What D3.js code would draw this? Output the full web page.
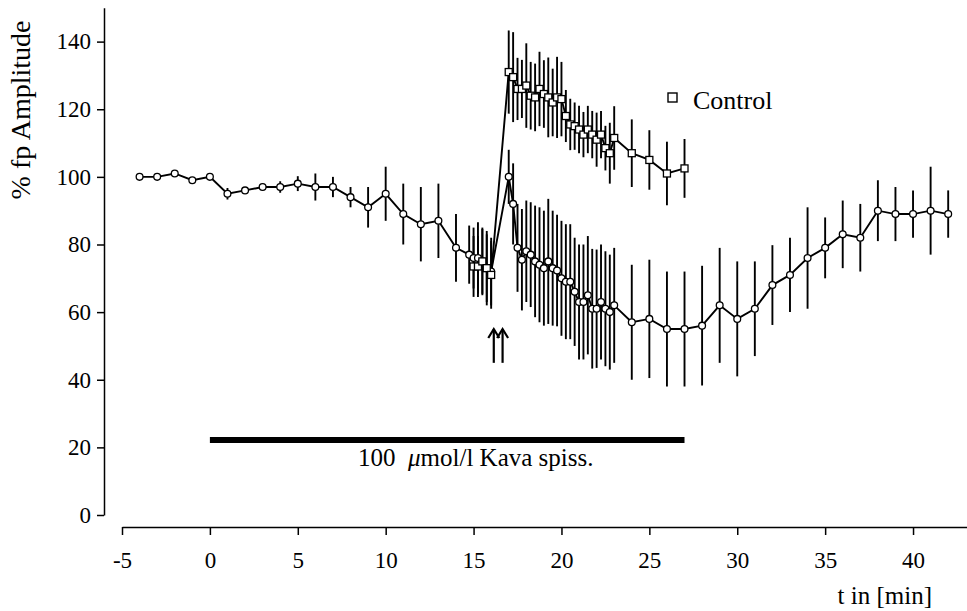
<!DOCTYPE html>
<html>
<head>
<meta charset="utf-8">
<script src="https://cdn.jsdelivr.net/npm/d3@7"></script>
<style>
body { margin: 0; background: #fff; }
</style>
</head>
<body>
<div id="chart"></div>
<script>
// Kava spiss. series (circles)
var kavaTime = [-4,-3,-2,-1,0,1,2,3,4,5,6,7,8,9,10,11,12,13,14,
  14.75,15,15.25,15.5,15.75,16,
  17,17.25,17.5,17.75,18,18.25,18.5,18.75,19,19.25,19.5,19.75,20,20.25,20.5,20.75,21,21.25,21.5,21.75,22,22.25,22.5,22.75,23,
  24,25,26,27,28,29,30,31,32,33,34,35,36,37,38,39,40,41,42];
var kavaMean = [100,100,101,99,100,95,96,97,97,98,97,97,94,91,95,89,86,87,79,
  77,76,76,75,73,72,
  100,92,79,75.5,78,77,75,74,73,75,73,72.3,70,69,69,66,63,63,65,61,61,63,61,60,62,
  57,58,55,55,56,62,58,61,68,71,76,79,83,82,90,89,89,90,89];
var kavaErr = [0,0,0,0,0,1.7,0.5,1,1.7,2.2,4,3,3,6,8,9,11,11,10,
  8.6,9,10.6,9.6,11,10,
  8,12,13,15,15,15.5,16.5,17,17,18.5,17,16.5,17,17,17,16,17,17,17.5,17.7,17.5,17,17,17,17,
  17,17.5,17,17,17.7,17,17,14,11.8,11,15,9,10,10,9,8,7,13,7];

// Control series (squares)
var ctrlTime = [15,15.25,15.5,15.75,16,
  17,17.25,17.5,17.75,18,18.25,18.5,18.75,19,19.25,19.5,19.75,20,20.25,20.5,20.75,21,21.25,21.5,21.75,22,22.25,22.5,22.75,23,
  24,25,26,27];
var ctrlMean = [73.5,73.5,75,73,71,
  131,129.5,126,126,127,124,123.5,126,124.5,123.5,122,123.5,123,118,115.5,115,114,112.5,114,112.5,111,112.5,108.5,107,111.5,
  107,105,101,102.5];
var ctrlErr = [9,9,10,10,10,
  12.3,13.3,9.2,8.6,12.5,10,10,11,10,11.8,10,12,11,7.7,7.6,7,7,6.7,7,7,8,7,6.6,9,9.4,
  10,8.8,9.4,8.7];

var xTicks = [-5,0,5,10,15,20,25,30,35,40];
var yTicks = [0,20,40,60,80,100,120,140];

var drugStart = 0, drugEnd = 27, drugLevel = 22.2;
var arrowTimes = [16.15, 16.65];
var arrowTop = 55, arrowBottom = 45;

var width = 967, height = 611;
var serif = "'Liberation Serif', 'Times New Roman', Times, 'DejaVu Serif', serif";

var svg = d3.select("#chart").append("svg")
    .attr("width", width).attr("height", height)
    .attr("font-family", serif);

var x = d3.scaleLinear().domain([-5, 43.07]).range([122, 967]);
var y = d3.scaleLinear().domain([0, 150]).range([515, 7.8]);

// axes
var xAxis = svg.append("g").attr("transform", "translate(0,527)")
    .call(d3.axisBottom(x).tickValues(xTicks).tickFormat(function(d){ return String(d); })
      .tickSize(8).tickSizeOuter(0).tickPadding(17));
var yAxis = svg.append("g").attr("transform", "translate(104,0)")
    .call(d3.axisLeft(y).tickValues(yTicks).tickSize(7).tickSizeOuter(0).tickPadding(6));

[xAxis, yAxis].forEach(function(g) {
  g.attr("font-size", 23).attr("font-family", serif);
  g.selectAll("text").attr("fill", "#000");
  g.selectAll("path, line").attr("stroke", "#000").attr("stroke-width", 1.5);
});

function toRows(t, m, e) {
  return t.map(function(d, i) { return { t: d, m: m[i], e: e[i] }; });
}
var kava = toRows(kavaTime, kavaMean, kavaErr);
var ctrl = toRows(ctrlTime, ctrlMean, ctrlErr);

var line = d3.line().x(function(d){ return x(d.t); }).y(function(d){ return y(d.m); });

// error bars
[kava, ctrl].forEach(function(rows) {
  svg.append("g").selectAll("line").data(rows.filter(function(d){ return d.e > 0; }))
    .enter().append("line")
    .attr("x1", function(d){ return x(d.t); }).attr("x2", function(d){ return x(d.t); })
    .attr("y1", function(d){ return y(d.m - d.e); }).attr("y2", function(d){ return y(d.m + d.e); })
    .attr("stroke", "#000").attr("stroke-width", 1.9);
});

// connecting lines
[kava, ctrl].forEach(function(rows) {
  svg.append("path").datum(rows).attr("d", line)
    .attr("fill", "none").attr("stroke", "#000").attr("stroke-width", 1.9);
});

// markers
svg.append("g").selectAll("circle").data(kava)
  .enter().append("circle")
  .attr("cx", function(d){ return x(d.t); }).attr("cy", function(d){ return y(d.m); })
  .attr("r", 3.4).attr("fill", "#fff").attr("stroke", "#000").attr("stroke-width", 1.3);

svg.append("g").selectAll("rect").data(ctrl)
  .enter().append("rect")
  .attr("x", function(d){ return x(d.t) - 3.5; }).attr("y", function(d){ return y(d.m) - 3.5; })
  .attr("width", 7).attr("height", 7)
  .attr("fill", "#fff").attr("stroke", "#000").attr("stroke-width", 1.3);

// drug application bar
svg.append("line")
  .attr("x1", x(drugStart)).attr("x2", x(drugEnd))
  .attr("y1", y(drugLevel)).attr("y2", y(drugLevel))
  .attr("stroke", "#000").attr("stroke-width", 6);

var label = svg.append("text").attr("x", 358).attr("y", 466)
  .attr("font-size", 25).style("white-space", "pre");
label.append("tspan").text("100  ");
label.append("tspan").attr("font-style", "italic").text("\u03bc");
label.append("tspan").text("mol/l Kava spiss.");

// arrows
var arrows = svg.append("g").selectAll("g").data(arrowTimes).enter().append("g");
arrows.append("line")
  .attr("x1", function(d){ return x(d); }).attr("x2", function(d){ return x(d); })
  .attr("y1", y(arrowTop)).attr("y2", y(arrowBottom))
  .attr("stroke", "#000").attr("stroke-width", 2.2);
arrows.append("path")
  .attr("d", function(d){ var ax = x(d), ay = y(arrowTop);
    return "M" + (ax - 5.5) + "," + (ay + 9) + "L" + ax + "," + ay + "L" + (ax + 5.5) + "," + (ay + 9); })
  .attr("fill", "none").attr("stroke", "#000").attr("stroke-width", 2.2);

// legend
svg.append("rect").attr("x", 668).attr("y", 93).attr("width", 9).attr("height", 9)
  .attr("fill", "#fff").attr("stroke", "#000").attr("stroke-width", 1.4);
svg.append("text").attr("x", 693).attr("y", 109).attr("font-size", 26).text("Control");

// axis titles
svg.append("text").attr("x", 932).attr("y", 604).attr("text-anchor", "end")
  .attr("font-size", 25).text("t in [min]");
svg.append("text").attr("transform", "translate(30,110) rotate(-90)")
  .attr("text-anchor", "middle").attr("font-size", 28).text("% fp Amplitude");
</script>
</body>
</html>
